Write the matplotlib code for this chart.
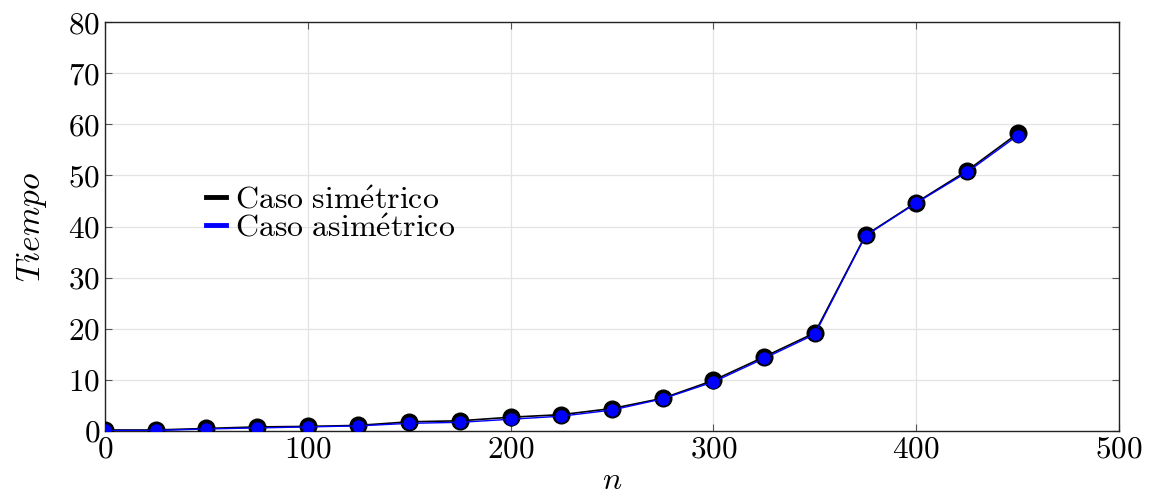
import numpy as np
import matplotlib
matplotlib.use('Agg')
import matplotlib.pyplot as plt

# data
n = [0, 25, 50, 75, 100, 125, 150, 175, 200, 225, 250, 275, 300, 325, 350, 375, 400, 425, 450]
simetrico = [0.2, 0.2, 0.5, 0.8, 0.9, 1.1, 1.8, 2.0, 2.7, 3.2, 4.4, 6.4, 9.9, 14.5, 19.2, 38.3, 44.7, 50.9, 58.2]
asimetrico = [0.1, 0.1, 0.4, 0.6, 0.8, 1.0, 1.5, 1.7, 2.3, 2.9, 4.1, 6.3, 9.6, 14.2, 18.9, 38.2, 44.6, 50.6, 57.8]

plt.rcParams['font.family'] = ['cmr10', 'DejaVu Serif']
plt.rcParams['mathtext.fontset'] = 'cm'
plt.rcParams['axes.formatter.use_mathtext'] = True

fig = plt.figure(figsize=(11.52, 5.01), dpi=100)
ax = fig.add_axes([0.0911, 0.1397, 0.9714 - 0.0911, 0.956 - 0.1397])

ax.plot(n, simetrico, color='black', lw=1.2, marker='o', markersize=12,
        markerfacecolor='black', markeredgecolor='black',
        label=r'$\mathrm{Caso\ sim\acute{e}trico}$', zorder=3)
ax.plot(n, asimetrico, color='blue', lw=1.0, marker='o', markersize=9.5,
        markerfacecolor='blue', markeredgecolor='black', markeredgewidth=0.5,
        label=r'$\mathrm{Caso\ asim\acute{e}trico}$', zorder=4)

ax.set_xlim(0, 500)
ax.set_ylim(0, 80)
ax.set_xticks(np.arange(0, 501, 100))
ax.set_yticks(np.arange(0, 81, 10))
ax.grid(True, color='#e3e3e3', lw=0.9)
ax.set_axisbelow(True)
ax.tick_params(direction='in', labelsize=22.5, top=True, right=True, length=5, color='#555555')
for s in ax.spines.values():
    s.set_color('#222222')
    s.set_linewidth(1.0)

ax.set_xlabel('$n$', fontsize=23, labelpad=3)
ax.set_ylabel('$Tiempo$', fontsize=24, labelpad=14)

leg = ax.legend(loc='center left', bbox_to_anchor=(0.1, 0.53), frameon=False, fontsize=23,
                handlelength=0.6, handletextpad=0.3, labelspacing=0.0, borderaxespad=0,
                borderpad=0)
for h in leg.legend_handles:
    h.set_marker('')
    h.set_linewidth(3.5)

fig.savefig('out.png', dpi=100)
